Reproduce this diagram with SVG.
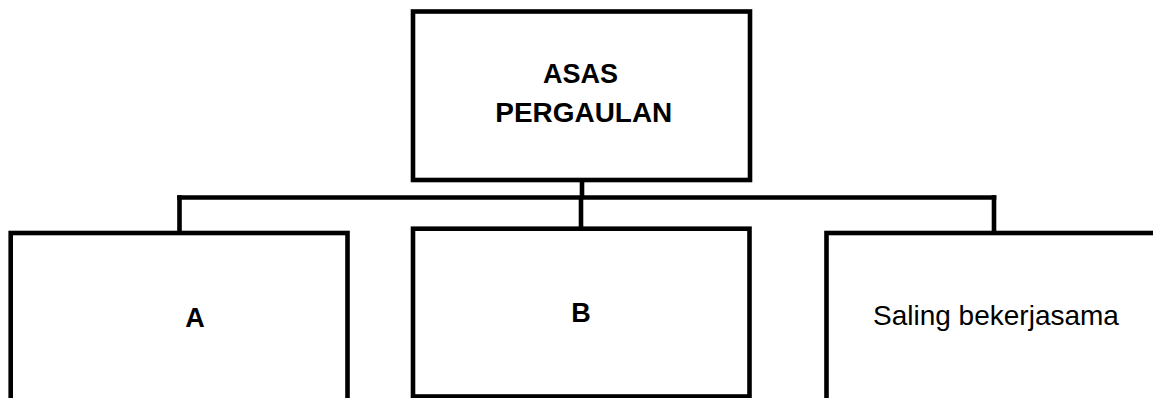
<svg xmlns="http://www.w3.org/2000/svg" width="1153" height="398" viewBox="0 0 1153 398">
  <style>
    .box { fill: #ffffff; stroke: #000000; stroke-width: 4.6; }
    .conn { fill: none; stroke: #000000; stroke-width: 4.6; }
    .bold { font-family: "Liberation Sans", Arial, sans-serif; font-weight: bold; font-size: 27px; fill: #000000; text-anchor: middle; }
    .reg { font-family: "Liberation Sans", Arial, sans-serif; font-size: 28px; fill: #000000; }
  </style>
  <rect width="1153" height="398" fill="#ffffff"/>
  <g id="connectors">
    <line class="conn" x1="582" y1="180" x2="582" y2="197.5"/>
    <line class="conn" x1="177.2" y1="197.5" x2="996.3" y2="197.5"/>
    <line class="conn" x1="179.5" y1="195.2" x2="179.5" y2="233"/>
    <line class="conn" x1="581" y1="197.5" x2="581" y2="228.7"/>
    <line class="conn" x1="994" y1="195.2" x2="994" y2="233"/>
  </g>
  <g id="node-root">
    <rect class="box" x="413" y="11.5" width="337" height="168.5"/>
    <text class="bold" x="580.5" y="82.5">ASAS</text>
    <text class="bold" x="583.8" y="121.7" textLength="177" lengthAdjust="spacingAndGlyphs">PERGAULAN</text>
  </g>
  <g id="node-a">
    <rect class="box" x="10.7" y="233" width="336.8" height="200"/>
    <text class="bold" x="195" y="326.5">A</text>
  </g>
  <g id="node-b">
    <rect class="box" x="413" y="228.7" width="336.5" height="167.8"/>
    <text class="bold" x="581" y="321.7">B</text>
  </g>
  <g id="node-c">
    <rect class="box" x="826.5" y="233" width="340" height="200"/>
    <text class="reg" x="873" y="325">Saling bekerjasama</text>
  </g>
</svg>
